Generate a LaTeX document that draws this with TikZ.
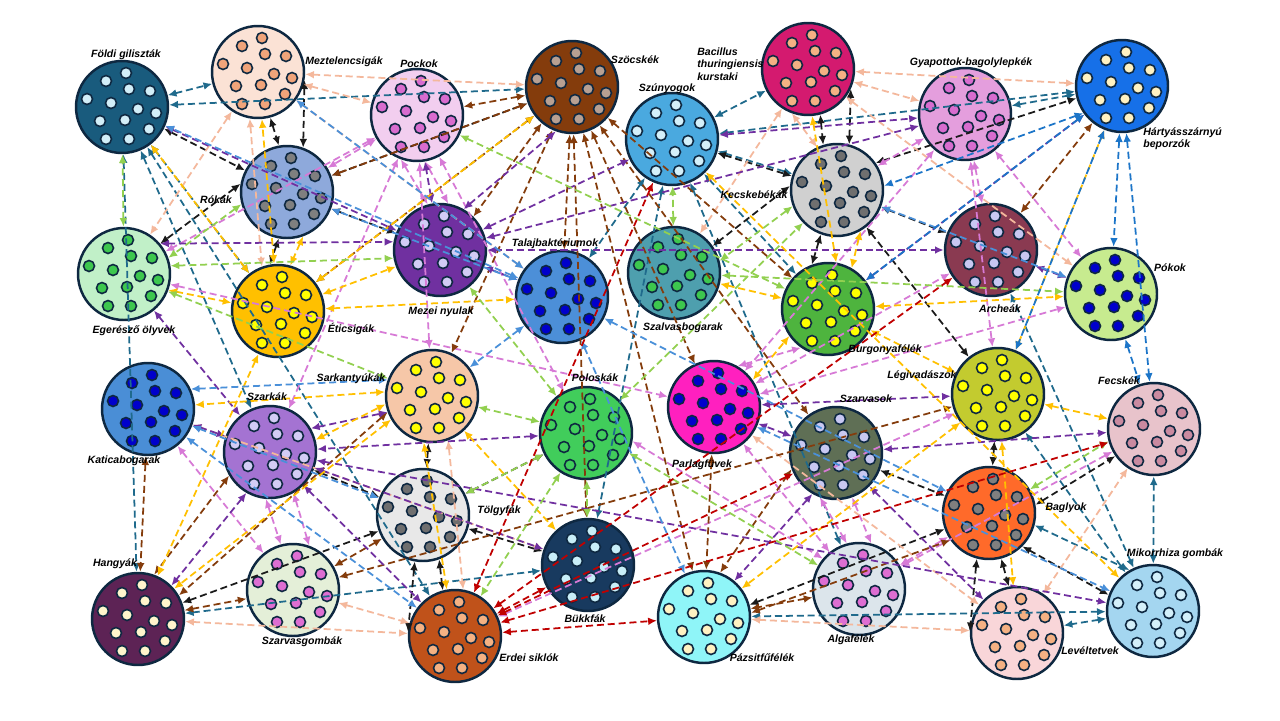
\documentclass[tikz,border=0pt]{standalone}
\usepackage{fontspec}
\setmainfont{Liberation Sans}
\usepackage{tikz}
\usetikzlibrary{arrows.meta}
\usepackage{xcolor}

\definecolor{rimnavy}{HTML}{0E2841}
% fills and dots
\definecolor{fgfill}{HTML}{195B7D}\definecolor{fgdot}{HTML}{D2EEF8}
\definecolor{mzfill}{HTML}{FBE2D5}\definecolor{mzdot}{HTML}{F0A47A}
\definecolor{pofill}{HTML}{F2CEEF}\definecolor{podot}{HTML}{D96CCF}
\definecolor{szfill}{HTML}{843C0C}\definecolor{szdot}{HTML}{B8A092}
\definecolor{sufill}{HTML}{4AA9DF}\definecolor{sudot}{HTML}{D4F0FA}
\definecolor{bafill}{HTML}{D41A6F}\definecolor{badot}{HTML}{F4B183}
\definecolor{gyfill}{HTML}{E49EDD}\definecolor{gydot}{HTML}{D86CCF}
\definecolor{hafill}{HTML}{1670E8}\definecolor{hadot}{HTML}{FFF2C2}
\definecolor{rofill}{HTML}{8EA9DB}\definecolor{rodot}{HTML}{7F7F7F}
\definecolor{kefill}{HTML}{D0D0D0}\definecolor{kedot}{HTML}{6F6F6F}
\definecolor{egfill}{HTML}{C1F0C8}\definecolor{egdot}{HTML}{3DC74E}
\definecolor{etfill}{HTML}{FFC000}\definecolor{etdot}{HTML}{FFFF00}
\definecolor{mefill}{HTML}{7030A0}\definecolor{medot}{HTML}{D2CCF5}
\definecolor{tafill}{HTML}{4C8FD8}\definecolor{tadot}{HTML}{0000CC}
\definecolor{sbfill}{HTML}{4E9FAE}\definecolor{sbdot}{HTML}{3DC74E}
\definecolor{bufill}{HTML}{4EB43E}\definecolor{budot}{HTML}{FFFF00}
\definecolor{arfill}{HTML}{8A3A51}\definecolor{ardot}{HTML}{C8C8F2}
\definecolor{pkfill}{HTML}{C7EB8F}\definecolor{pkdot}{HTML}{0000CC}
\definecolor{kafill}{HTML}{4A8ED6}\definecolor{kadot}{HTML}{0000CC}
\definecolor{safill}{HTML}{F6C7A8}\definecolor{sadot}{HTML}{FFFF00}
\definecolor{skfill}{HTML}{A473D2}\definecolor{skdot}{HTML}{D2CCF5}
\definecolor{plfill}{HTML}{41CD5B}\definecolor{pldot}{HTML}{41CD5B}
\definecolor{pffill}{HTML}{FF20BF}\definecolor{pfdot}{HTML}{0000CC}
\definecolor{svfill}{HTML}{5F6F55}\definecolor{svdot}{HTML}{C8C8F2}
\definecolor{lefill}{HTML}{C3CB2F}\definecolor{ledot}{HTML}{FFFF00}
\definecolor{fefill}{HTML}{E8C3CB}\definecolor{fedot}{HTML}{C98AA0}
\definecolor{tofill}{HTML}{E8E8E8}\definecolor{todot}{HTML}{6F6F6F}
\definecolor{bgfill}{HTML}{FF6A2A}\definecolor{bgdot}{HTML}{7F7F7F}
\definecolor{hgfill}{HTML}{5D2355}\definecolor{hgdot}{HTML}{FFF5CC}
\definecolor{sgfill}{HTML}{E4EFD8}\definecolor{sgdot}{HTML}{DE6ED2}
\definecolor{bkfill}{HTML}{183A5F}\definecolor{bkdot}{HTML}{C8EEF8}
\definecolor{esfill}{HTML}{C0521A}\definecolor{esdot}{HTML}{F4B183}
\definecolor{pzfill}{HTML}{8FF5F8}\definecolor{pzdot}{HTML}{FFF2C2}
\definecolor{alfill}{HTML}{DCE5EB}\definecolor{aldot}{HTML}{DE6ED2}
\definecolor{lvfill}{HTML}{F9D6D9}\definecolor{lvdot}{HTML}{F4B183}
\definecolor{mkfill}{HTML}{A4D6F0}\definecolor{mkdot}{HTML}{D4F0FA}
% connector colours
\definecolor{lnkteal}{HTML}{1F6A8C}
\definecolor{lnkblack}{HTML}{1A1A1A}
\definecolor{lnkpeach}{HTML}{F4B89C}
\definecolor{lnkpink}{HTML}{D77AD6}
\definecolor{lnkbrown}{HTML}{843C0C}
\definecolor{lnkpurple}{HTML}{7030A0}
\definecolor{lnkyellow}{HTML}{FFC000}
\definecolor{lnkgreen}{HTML}{92D050}
\definecolor{lnksteel}{HTML}{4A90D9}
\definecolor{lnkred}{HTML}{C00000}
\definecolor{lnkblue}{HTML}{1C75C8}

\tikzset{
  spc/.style={circle, draw=rimnavy, line width=1.4pt, minimum size=1.84cm, inner sep=0pt},
  speck/.style={draw=rimnavy, line width=0.9pt},
  lbl/.style={font=\fontsize{6}{7}\selectfont\bfseries\itshape, inner sep=0pt, align=left},
  lnk/.style={dash pattern=on 4pt off 2.2pt, line width=1pt,
              {Latex[length=5pt,width=4.4pt]}-{Latex[length=5pt,width=4.4pt]}}
}
\newcommand\specks[2]{%
  \foreach \dx/\dy in {4/-34,-16/-26,7/-18,28/-16,-35/-8,-11/-4,16/2,34/6,-22/14,3/13,27/22,-16/32,7/32}
    \filldraw[speck, fill=#2] ([shift={(\dx,\dy)}]#1.center) circle (0.11cm);}

\begin{document}
\begin{tikzpicture}[x=0.02cm, y=-0.02cm]
\fill[white] (0,0) rectangle (1280,720);

% species
\node[spc, fill=fgfill] (fg) at (122,107) {};
\node[spc, fill=mzfill] (mz) at (258,72) {};
\node[spc, fill=pofill] (po) at (417,115) {};
\node[spc, fill=szfill] (sz) at (572,87) {};
\node[spc, fill=sufill] (su) at (672,139) {};
\node[spc, fill=bafill] (ba) at (808,69) {};
\node[spc, fill=gyfill] (gy) at (965,114) {};
\node[spc, fill=hafill] (ha) at (1122,86) {};
\node[spc, fill=rofill] (ro) at (287,192) {};
\node[spc, fill=kefill] (ke) at (837,190) {};
\node[spc, fill=egfill] (eg) at (124,274) {};
\node[spc, fill=etfill] (et) at (278,311) {};
\node[spc, fill=mefill] (me) at (440,250) {};
\node[spc, fill=tafill] (ta) at (562,297) {};
\node[spc, fill=sbfill] (sb) at (674,273) {};
\node[spc, fill=bufill] (bu) at (828,309) {};
\node[spc, fill=arfill] (ar) at (991,250) {};
\node[spc, fill=pkfill] (pk) at (1111,294) {};
\node[spc, fill=kafill] (ka) at (148,409) {};
\node[spc, fill=safill] (sa) at (432,396) {};
\node[spc, fill=skfill] (sk) at (270,452) {};
\node[spc, fill=plfill] (pl) at (586,433) {};
\node[spc, fill=pffill] (pf) at (714,407) {};
\node[spc, fill=svfill] (sv) at (836,453) {};
\node[spc, fill=lefill] (le) at (998,394) {};
\node[spc, fill=fefill] (fe) at (1154,429) {};
\node[spc, fill=tofill] (to) at (423,515) {};
\node[spc, fill=bgfill] (bg) at (989,513) {};
\node[spc, fill=hgfill] (hg) at (138,619) {};
\node[spc, fill=sgfill] (sg) at (293,590) {};
\node[spc, fill=bkfill] (bk) at (588,565) {};
\node[spc, fill=esfill] (es) at (455,636) {};
\node[spc, fill=pzfill] (pz) at (704,617) {};
\node[spc, fill=alfill] (al) at (859,589) {};
\node[spc, fill=lvfill] (lv) at (1017,633) {};
\node[spc, fill=mkfill] (mk) at (1153,611) {};

\foreach \n in {fg,mz,po,sz,su,ba,gy,ha,ro,ke,eg,et,me,ta,sb,bu,ar,pk,
                ka,sa,sk,pl,pf,sv,le,fe,to,bg,hg,sg,bk,es,pz,al,lv,mk}
  \specks{\n}{\n dot};

% links
\foreach \a/\b in {fg/mz, fg/sz, fg/hg, fg/et, fg/sk, fg/es, su/ba, su/ha, gy/ha, su.-15/ke.160,
    su/ta, su/bk, su/bu, su/al, mk/fe, mk/lv, mk/pz, bg.-15/mk.120, mk/ar, mk/le, hg/bk}
  \draw[lnk, lnkteal] (\a) -- (\b);
\foreach \a/\b in {fg/ro, ro/sz, ro.170/eg.40, ro.-100/et.100, ro/me, su/ke, ke.35/ha.195,
    ke.175/sb.35, ke.-110/bu.110, ke/le, ke/ar, sa/to, sk/to, to/pl, to/bk, hg/to, le/bg,
    bg.10/fe.-145, bg.-45/mk.160, sv/bg, pz.15/bg.200, mz.-75/ro.100, mz.-10/ro.70,
    ba.-75/ke.107, ba.-25/ke.75, to.-100/es.175, to.-70/es.105, bg.-105/lv.178, bg.-75/lv.100}
  \draw[lnk, lnkblack] (\a) -- (\b);
\foreach \a/\b in {mz/sz, mz/po, mz/eg, mz/ta, mz.-100/et.110, ba/ha, ba/sb, ba.-110/ke.115,
    ba/gy, ba/pk, lv/fe, pz/lv, hg/es, sg/es, ka/bk, sa.-70/es.80, pf/lv}
  \draw[lnk, lnkpeach] (\a) -- (\b);
\foreach \a/\b in {po/ro, po/eg, po/sk, po/pl, po/sa, ka/sg, gy/ke, gy/ar, gy/le, gy/pk, gy/pf,
    eg/pf, pf.60/bu.235, pf/al, pl.-10/al.140, es/le, al/fe, pf/pk, pf/ar, al/bg,
    po.-110/me.105, po.-80/me.80, sk.-95/sg.105, sk.-60/sg.70, sv.-110/al.105, sv.-70/al.75}
  \draw[lnk, lnkpink] (\a) -- (\b);
\foreach \a/\b in {sz/po, sz/ro, sz/et, sz.-130/me.45, sz/sa, sz/bk, sz/pz, sz/pf, sz/sv, sz/bu,
    sz/ta, ka/hg, sk.-150/hg.70, hg/sg, pf/pz, sv.-160/pz.70, al/pz, pz.5/bg.215, ar/ha,
    sg/to, sa.-160/hg.30, sg/le}
  \draw[lnk, lnkbrown] (\a) -- (\b);
\foreach \a/\b in {fg/me, eg.40/me.170, me/po, me.60/sz.-110, me/ta, me/su, eg/sk, ka/sk,
    sk.30/sa.200, sk.-120/hg.45, sk/es, sk/bk, pl/sk, sv.-120/pz.50, sv/pf, sv/lv, sk/mk,
    ar/pk, gy/me, pf/le, me/ar, su/gy, bu/ha, sv/fe}
  \draw[lnk, lnkpurple] (\a) -- (\b);
\foreach \a/\b in {et/fg, et/mz, eg.-20/et.170, et/me, et/ta, et/sz, et/hg, sa.175/ka.5,
    sk.15/sa.190, sa.-150/hg.40, sa.-100/es.100, sa/bk, le/bu, sb/bu, ba.-85/bu.80, su/mk,
    pf.35/bu.215, le/fe, le/lv, le/ha, le/pz, bu/pk, ro.-70/et.75, ke.-60/bu.60}
  \draw[lnk, lnkyellow] (\a) -- (\b);
\foreach \a/\b in {eg/fg, ro.-165/eg.20, eg/sa, eg.10/me.190, po/bu, sb/su, ke.200/sb.15,
    pl/sa, pl/to, pl/bk, pl/es, pl.-25/al.150, bg.30/fe.-165, sb/pk, pl/ke, pl/me}
  \draw[lnk, lnkgreen] (\a) -- (\b);
\foreach \a/\b in {ta/ro, ta/fg, ta/mz, ta/sa, sa.160/ka.25, ke/pk, ta/bg, pf/mk, ka/to,
    ka/es, ta/pz}
  \draw[lnk, lnksteel] (\a) -- (\b);
\foreach \a/\b in {es/su, es/bk, es/sv, es/ar, es/fe, es/pz}
  \draw[lnk, lnkred] (\a) -- (\b);
\foreach \a/\b in {ha/pk, ha/fe, ha/le, ha.215/ke.5, ha/bu, pk/fe}
  \draw[lnk, lnkblue] (\a) -- (\b);

% names
\node[lbl] (fg-t) at (126,55) {Földi giliszták};
\node[lbl] (mz-t) at (344,62) {Meztelencsigák};
\node[lbl] (po-t) at (419,64) {Pockok};
\node[lbl] (sz-t) at (635,60) {Szöcskék};
\node[lbl, anchor=west] (ba-t) at (697,64) {Bacillus\\thuringiensis\\kurstaki};
\node[lbl] (su-t) at (667,89) {Szúnyogok};
\node[lbl] (gy-t) at (971,63) {Gyapottok-bagolylepkék};
\node[lbl, anchor=west] (ha-t) at (1143,139) {Hártyásszárnyú\\beporzók};
\node[lbl] (ro-t) at (216,200) {Rókák};
\node[lbl] (ke-t) at (754,195) {Kecskebékák};
\node[lbl] (eg-t) at (134,331) {Egerésző ölyvek};
\node[lbl] (et-t) at (351,329) {Éticsigák};
\node[lbl] (me-t) at (441,312) {Mezei nyulak};
\node[lbl] (ta-t) at (555,244) {Talajbaktériumok};
\node[lbl] (sb-t) at (683,328) {Szalvasbogarak};
\node[lbl] (bu-t) at (885,350) {Burgonyafélék};
\node[lbl] (ar-t) at (1000,309) {Archeák};
\node[lbl] (pk-t) at (1170,268) {Pókok};
\node[lbl] (ka-t) at (124,461) {Katicabogarak};
\node[lbl] (sa-t) at (351,379) {Sarkantyúkák};
\node[lbl] (sk-t) at (267,397) {Szarkák};
\node[lbl] (pl-t) at (595,378) {Poloskák};
\node[lbl] (pf-t) at (702,465) {Parlagfüvek};
\node[lbl] (sv-t) at (866,399) {Szarvasok};
\node[lbl] (le-t) at (922,376) {Légivadászok};
\node[lbl] (fe-t) at (1119,381) {Fecskék};
\node[lbl] (to-t) at (499,511) {Tölgyfák};
\node[lbl] (bg-t) at (1066,508) {Baglyok};
\node[lbl] (hg-t) at (115,564) {Hangyák};
\node[lbl] (sg-t) at (302,642) {Szarvasgombák};
\node[lbl] (bk-t) at (585,619) {Bükkfák};
\node[lbl] (es-t) at (529,658) {Erdei siklók};
\node[lbl] (pz-t) at (762,658) {Pázsitfűfélék};
\node[lbl] (al-t) at (851,640) {Algafélék};
\node[lbl] (lv-t) at (1090,651) {Levéltetvek};
\node[lbl] (mk-t) at (1175,554) {Mikorrhiza gombák};
\end{tikzpicture}
\end{document}
